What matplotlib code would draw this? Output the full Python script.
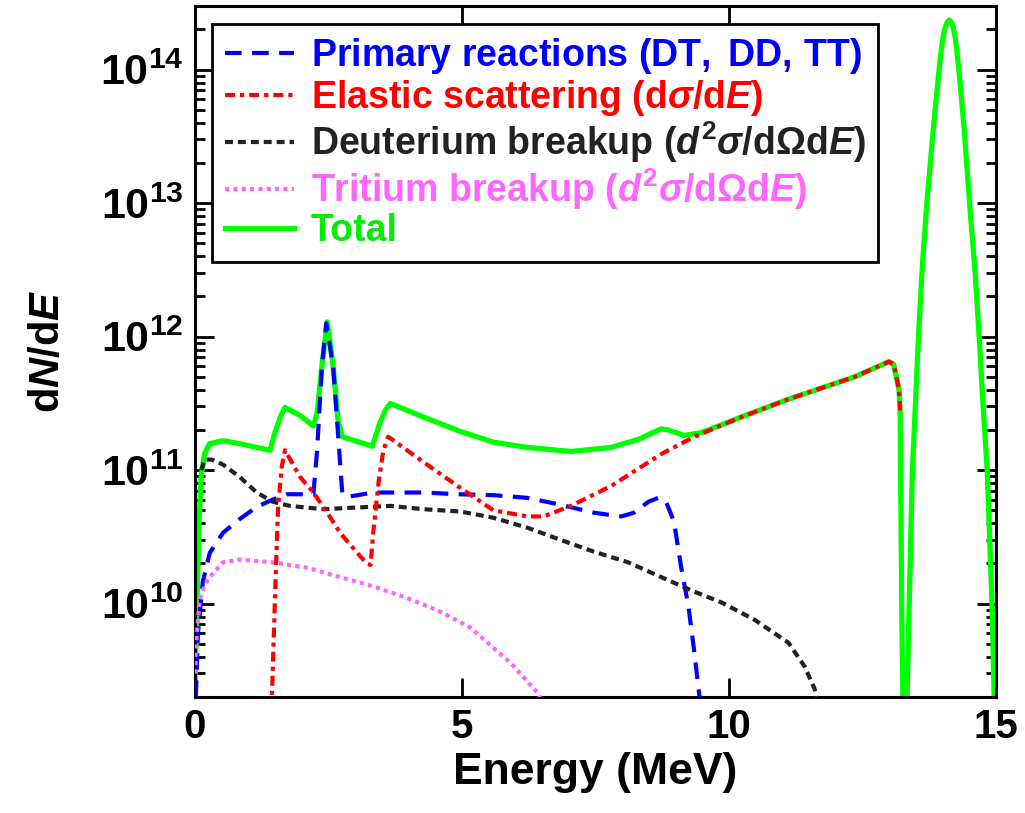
import math
import matplotlib
matplotlib.use("Agg")
import matplotlib.pyplot as plt
from matplotlib.ticker import FixedLocator, FuncFormatter, LogLocator, NullFormatter

plt.rcParams['font.family'] = ['Liberation Sans', 'DejaVu Sans']
plt.rcParams['font.weight'] = 'bold'
plt.rcParams['mathtext.fontset'] = 'custom'
plt.rcParams['mathtext.rm'] = 'Liberation Sans'
plt.rcParams['mathtext.it'] = 'Liberation Sans:italic:bold'
plt.rcParams['mathtext.bf'] = 'Liberation Sans:bold'
plt.rcParams['mathtext.sf'] = 'Liberation Sans'

# ---- data ----
primary_E = [0.02, 0.06, 0.15, 0.28, 0.53, 0.84, 1.16, 1.45, 1.73, 2.03, 2.22, 2.29, 2.38, 2.46,
             2.59, 2.68, 2.76, 2.85, 3.34, 3.66, 4.28, 4.92, 5.59, 6.23, 6.85, 7.47, 7.98, 8.22,
             8.49, 8.67, 8.82, 8.97, 9.10, 9.24, 9.35, 9.44, 9.50]
primary_N = [2.0e9, 6.0e9, 1.45e10, 2.4e10, 3.4e10, 4.3e10, 5.3e10, 6.0e10, 6.6e10, 6.6e10, 6.6e10,
             1.41e11, 6.0e11, 1.26e12, 6.0e11, 1.9e11, 6.8e10, 6.3e10, 6.8e10, 6.8e10, 6.8e10,
             6.6e10, 6.5e10, 6.2e10, 5.5e10, 4.8e10, 4.5e10, 4.8e10, 5.8e10, 6.2e10, 5.8e10,
             4.1e10, 1.9e10, 9.5e9, 4.3e9, 2.1e9, 1.2e9]

elastic_E = [1.42, 1.45, 1.50, 1.56, 1.63, 1.69, 1.97, 2.22, 2.48, 2.72, 3.04, 3.22, 3.29, 3.34,
             3.44, 3.53, 3.62, 4.28, 4.92, 5.59, 6.23, 6.53, 7.04, 7.79, 8.73, 9.35, 10.23,
             11.11, 12.35, 12.99, 13.08, 13.18, 13.20]
elastic_N = [1.6e9, 2.3e9, 1.07e10, 5.4e10, 1.07e11, 1.41e11, 8.9e10, 6.8e10, 4.8e10, 3.4e10,
             2.4e10, 2.0e10, 1.95e10, 3.4e10, 8.1e10, 1.41e11, 1.78e11, 1.15e11, 7.6e10, 5.0e10,
             4.5e10, 4.5e10, 5.4e10, 7.6e10, 1.32e11, 1.78e11, 2.5e11, 3.4e11, 5.0e11, 6.5e11,
             6.2e11, 4.0e11, 2.8e11]

deut_E = [0.12, 0.19, 0.32, 0.53, 0.84, 1.16, 1.46, 1.78, 2.40, 3.04, 3.66, 4.28, 4.97, 5.59,
          6.23, 6.85, 7.47, 8.11, 8.73, 9.35, 9.86, 10.47, 11.11, 11.41, 11.60, 11.66]
deut_N = [1.0e11, 1.2e11, 1.2e11, 1.1e11, 8.9e10, 6.8e10, 5.8e10, 5.4e10, 5.1e10, 5.25e10,
          5.4e10, 5.1e10, 4.9e10, 4.4e10, 3.7e10, 3.0e10, 2.45e10, 2.04e10, 1.58e10, 1.23e10,
          1.02e10, 7.6e9, 5.1e9, 3.4e9, 2.3e9, 1.74e9]

trit_E = [0.01, 0.02, 0.04, 0.09, 0.19, 0.28, 0.53, 0.84, 1.46, 2.10, 2.72, 3.34, 3.98, 4.60,
          5.16, 5.48, 5.91, 6.42, 6.48]
trit_N = [3.0e9, 4.6e9, 6.0e9, 1.07e10, 1.38e10, 1.58e10, 2.04e10, 2.14e10, 2.04e10, 1.86e10,
          1.58e10, 1.35e10, 1.1e10, 8.7e9, 6.6e9, 5.1e9, 3.6e9, 2.14e9, 1.9e9]

total_E = [0.00, 0.04, 0.08, 0.12, 0.18, 0.28, 0.53, 0.84, 1.16, 1.41, 1.50, 1.60, 1.69, 1.97,
           2.22, 2.29, 2.38, 2.48, 2.59, 2.68, 2.76, 3.00, 3.32, 3.47, 3.57, 3.66, 4.28, 4.97,
           5.59, 6.23, 7.04, 7.79, 8.30, 8.73, 8.86, 9.16, 9.48, 10.23, 11.11, 12.35, 12.99,
           13.08, 13.18, 13.20, 13.23, 13.26, 13.30, 13.33, 13.43, 13.55, 13.62, 13.70, 13.82,
           13.93, 13.97, 14.01, 14.05, 14.09, 14.12, 14.15, 14.19, 14.23, 14.26, 14.30, 14.40,
           14.50, 14.60, 14.68, 14.75, 14.83, 14.92, 14.96, 15.00]
total_N = [2.0e9, 1.0e10, 4.0e10, 8.9e10, 1.32e11, 1.58e11, 1.66e11, 1.58e11, 1.48e11, 1.41e11,
           1.91e11, 2.5e11, 2.95e11, 2.57e11, 2.14e11, 2.69e11, 6.0e11, 1.29e12, 6.0e11, 2.4e11,
           1.78e11, 1.66e11, 1.51e11, 2.29e11, 2.82e11, 3.16e11, 2.5e11, 1.95e11, 1.62e11,
           1.48e11, 1.38e11, 1.48e11, 1.70e11, 2.04e11, 2.0e11, 1.82e11, 1.91e11, 2.5e11,
           3.4e11, 5.0e11, 6.5e11, 6.2e11, 4.0e11, 2.8e11, 1.0e10, 1.0e9, 1.0e9, 2.0e9, 1.0e11,
           1.12e12, 3.55e12, 1.0e13, 3.55e13, 1.0e14, 1.4e14, 1.8e14, 2.1e14, 2.3e14, 2.35e14,
           2.3e14, 2.1e14, 1.75e14, 1.4e14, 1.0e14, 3.55e13, 1.0e13, 3.16e12, 1.0e12, 3.16e11,
           1.0e11, 1.0e10, 2.0e9, 3.0e8]

labels = [
    r'Primary reactions $\mathrm{(DT,\;DD,\,TT)}$',
    r'Elastic scattering $\mathrm{(d}\sigma\mathrm{/d}E\mathrm{)}$',
    r'Deuterium breakup $(d^{2}\sigma\mathrm{/d}\Omega\mathrm{d}E)$',
    r'Tritium breakup $(d^{2}\sigma\mathrm{/d}\Omega\mathrm{d}E)$',
    'Total',
]
colors = ['#0000ff', '#ff0000', '#222222', '#ff66ff', '#00ff00']

fig = plt.figure(figsize=(10.25, 8.13), dpi=100)
ax = fig.add_axes([0.190, 0.1427, 0.782, 0.850])

# total first so the components sit on top of it
l_tot, = ax.plot(total_E, total_N, color=colors[4], lw=3.8, solid_joinstyle='round', zorder=2)
l_pri, = ax.plot(primary_E, primary_N, color=colors[0], lw=3.0, dashes=(4, 2.5), zorder=3)
l_ela, = ax.plot(elastic_E, elastic_N, color=colors[1], lw=3.0, dashes=(2.4, 1.2, 1, 1.2), zorder=4)
l_deu, = ax.plot(deut_E, deut_N, color=colors[2], lw=3.0, dashes=(1.9, 1.2), zorder=3)
l_tri, = ax.plot(trit_E, trit_N, color=colors[3], lw=3.0, dashes=(1, 1), zorder=3)

ax.set_yscale('log')
ax.set_xlim(0, 15)
ax.set_ylim(2e9, 3e14)

ax.xaxis.set_major_locator(FixedLocator([0, 5, 10, 15]))
ax.yaxis.set_major_locator(LogLocator(base=10, numticks=20))
ax.yaxis.set_minor_locator(LogLocator(base=10, subs=range(2, 10), numticks=20))
ax.yaxis.set_minor_formatter(NullFormatter())
ax.yaxis.set_major_formatter(FuncFormatter(lambda v, p: r'$\mathbf{10^{%d}}$' % round(math.log10(v))))

ax.tick_params(which='both', direction='in', top=True, right=True, width=2.0)
ax.tick_params(which='major', length=14)
ax.tick_params(which='minor', length=7)
ax.tick_params(axis='x', labelsize=29, pad=8)
ax.tick_params(axis='y', labelsize=31, pad=8)
for lab in ax.get_xticklabels():
    lab.set_fontweight('bold')
for s in ax.spines.values():
    s.set_linewidth(2.2)

ax.set_xlabel('Energy (MeV)', fontsize=32, fontweight='bold', labelpad=4)
ax.set_ylabel(r'$\mathbf{d}N\mathbf{/d}E$', fontsize=30)
ax.yaxis.set_label_coords(-0.158, 0.5)

leg = ax.legend([l_pri, l_ela, l_deu, l_tri, l_tot], labels, loc='upper left',
                bbox_to_anchor=(0.022, 0.974), borderaxespad=0, fancybox=False,
                framealpha=1, edgecolor='black', handlelength=1.85, handletextpad=0.45,
                labelspacing=0.04, borderpad=0.33,
                prop={'family': 'Liberation Sans', 'weight': 'bold', 'size': 27})
leg.get_frame().set_linewidth(2.0)
for txt, c in zip(leg.get_texts(), colors[:4] + ['#00ee00']):
    txt.set_color(c)

fig.savefig('out.png', dpi=100)
